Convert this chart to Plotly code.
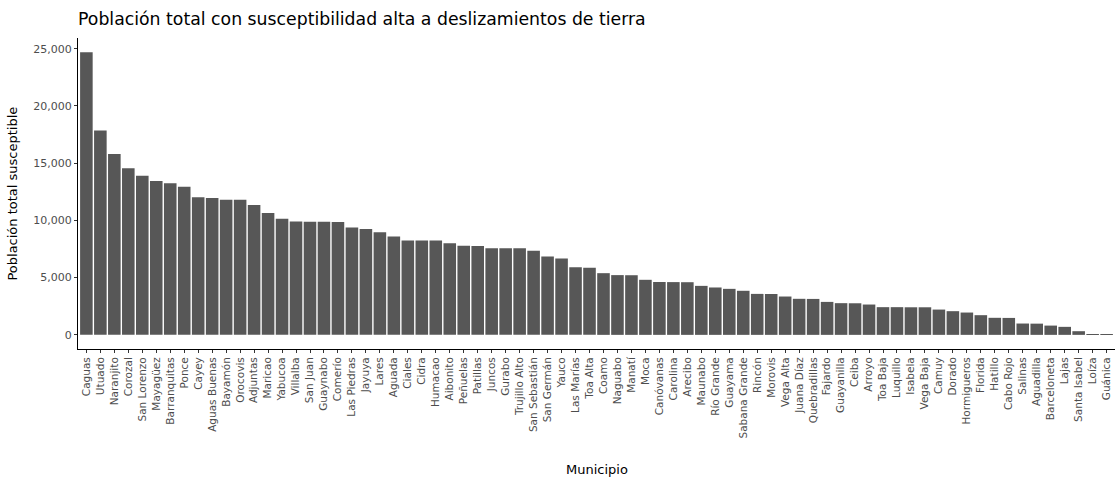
import plotly.graph_objects as go

# Municipios ordenados por población con susceptibilidad alta
municipios = [
    "Caguas", "Utuado", "Naranjito", "Corozal", "San Lorenzo", "Mayagüez",
    "Barranquitas", "Ponce", "Cayey", "Aguas Buenas", "Bayamón", "Orocovis",
    "Adjuntas", "Maricao", "Yabucoa", "Villalba", "San Juan", "Guaynabo",
    "Comerío", "Las Piedras", "Jayuya", "Lares", "Aguada", "Ciales",
    "Cidra", "Humacao", "Aibonito", "Peñuelas", "Patillas", "Juncos",
    "Gurabo", "Trujillo Alto", "San Sebastián", "San Germán", "Yauco",
    "Las Marías", "Toa Alta", "Coamo", "Naguabo", "Manatí", "Moca",
    "Canóvanas", "Carolina", "Arecibo", "Maunabo", "Río Grande", "Guayama",
    "Sabana Grande", "Rincón", "Morovis", "Vega Alta", "Juana Díaz",
    "Quebradillas", "Fajardo", "Guayanilla", "Ceiba", "Arroyo", "Toa Baja",
    "Luquillo", "Isabela", "Vega Baja", "Camuy", "Dorado", "Hormigueros",
    "Florida", "Hatillo", "Cabo Rojo", "Salinas", "Aguadilla", "Barceloneta",
    "Lajas", "Santa Isabel", "Loíza", "Guánica",
]

poblacion = [
    24700, 17850, 15800, 14550, 13900, 13450,
    13250, 12950, 12030, 11950, 11800, 11800,
    11350, 10650, 10150, 9900, 9880, 9880,
    9870, 9380, 9240, 8970, 8600, 8250,
    8250, 8240, 8010, 7780, 7770, 7570,
    7570, 7560, 7340, 6850, 6670,
    5910, 5870, 5390, 5220, 5210, 4810,
    4620, 4610, 4600, 4280, 4140, 4020,
    3850, 3580, 3570, 3350, 3150,
    3140, 2880, 2770, 2760, 2650, 2420,
    2420, 2410, 2410, 2210, 2070, 1950,
    1720, 1490, 1480, 990, 980, 810,
    700, 320, 40, 20,
]

y_ticks = [0, 5000, 10000, 15000, 20000, 25000]
y_tick_text = ["0", "5,000", "10,000", "15,000", "20,000", "25,000"]

FONT = "DejaVu Sans, Verdana, sans-serif"

fig = go.Figure(
    go.Bar(
        x=municipios,
        y=poblacion,
        marker=dict(color="#575757", line=dict(width=0)),
        width=0.9,
    )
)

ymax = max(poblacion)
pad = ymax * 0.05

fig.update_layout(
    width=1118,
    height=483,
    margin=dict(l=78, r=3, t=38, b=134),
    paper_bgcolor="white",
    plot_bgcolor="white",
    showlegend=False,
    font=dict(family=FONT, color="#4d4d4d"),
    title=dict(
        text="Población total con susceptibilidad alta a deslizamientos de tierra",
        x=0, xref="paper", xanchor="left",
        y=0.961, yref="container", yanchor="middle",
        font=dict(family=FONT, size=17.3, color="black"),
    ),
    xaxis=dict(
        type="category",
        range=[-0.6, len(municipios) - 0.4],
        tickangle=-90,
        tickfont=dict(size=10.5, color="#4d4d4d"),
        ticks="outside", ticklen=3, tickcolor="#333333", tickwidth=1,
        showline=True, linecolor="black", linewidth=1,
        showgrid=False, zeroline=False, automargin=False,
    ),
    yaxis=dict(
        range=[-pad, ymax + pad],
        tickvals=y_ticks, ticktext=y_tick_text,
        tickfont=dict(size=11, color="#4d4d4d"),
        ticks="outside", ticklen=3, tickcolor="#333333", tickwidth=1,
        showline=True, linecolor="black", linewidth=1,
        showgrid=False, zeroline=False, automargin=False,
    ),
    annotations=[
        dict(
            text="Municipio", xref="paper", yref="paper",
            x=0.5, y=-0.389, xanchor="center", yanchor="middle",
            showarrow=False, font=dict(family=FONT, size=13, color="black"),
        ),
        dict(
            text="Población total susceptible", xref="paper", yref="paper",
            x=-0.0636, y=0.5, xanchor="center", yanchor="middle",
            textangle=-90, showarrow=False,
            font=dict(family=FONT, size=13, color="black"),
        ),
    ],
)

fig.write_html("out.html")
